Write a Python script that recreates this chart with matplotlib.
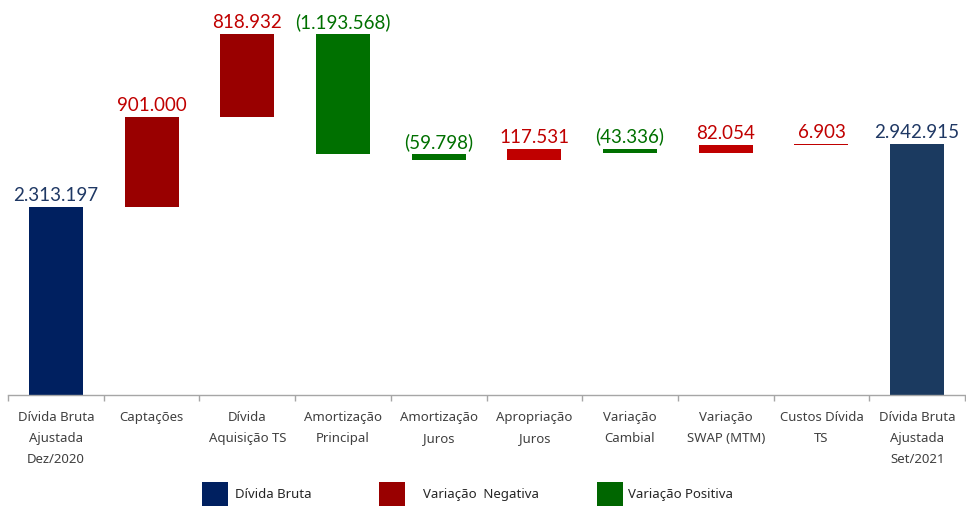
import matplotlib
matplotlib.use("Agg")
import matplotlib.pyplot as plt
from matplotlib.patches import Rectangle
from matplotlib import font_manager
import numpy as np

categories = ["Dívida Bruta\nAjustada\nDez/2020", "Captações", "Dívida\nAquisição TS",
              "Amortização\nPrincipal", "Amortização\nJuros", "Apropriação\nJuros",
              "Variação\nCambial", "Variação\nSWAP (MTM)", "Custos Dívida\nTS",
              "Dívida Bruta\nAjustada\nSet/2021"]
values = [2313197, 901000, 818932, -1193568, -59798, 117531, -43336, 82054, 6903, 2942915]
is_total = [True, False, False, False, False, False, False, False, False, True]
legend_labels = ["Dívida Bruta", "Variação  Negativa", "Variação Positiva"]

bar_colors = ["#002060", "#990000", "#990000", "#007000", "#007000", "#C00000",
              "#007000", "#C00000", "#C00000", "#1B3A60"]
label_colors = ["#1F3864", "#C00000", "#C00000", "#007000", "#007000", "#C00000",
                "#007000", "#C00000", "#C00000", "#1F3864"]
legend_colors = ["#002060", "#990000", "#006600"]

names = {f.name for f in font_manager.fontManager.ttflist}
num_font = "Lato" if "Lato" in names else "DejaVu Sans"
tick_font = "Noto Sans" if "Noto Sans" in names else "DejaVu Sans"

W, H = 966, 510
fig = plt.figure(figsize=(W / 100, H / 100), dpi=100)
ax = fig.add_axes([8 / W, (H - 396) / H, 957 / W, 396 / H])

x = np.arange(len(categories))
bottoms, heights = [], []
running = 0
for v, tot in zip(values, is_total):
    if tot:
        bottoms.append(0)
        heights.append(v)
        running = v
    else:
        if v >= 0:
            bottoms.append(running)
            heights.append(v)
        else:
            bottoms.append(running + v)
            heights.append(-v)
        running += v

ax.bar(x, heights, bottom=bottoms, width=0.565, color=bar_colors, zorder=2)

def fmt(v):
    s = f"{abs(v):,}".replace(",", ".")
    return f"({s})" if v < 0 else s

for xi, b, h, v, c in zip(x, bottoms, heights, values, label_colors):
    ax.annotate(fmt(v), (xi, b + h), xytext=(0, 5), textcoords="offset points",
                ha="center", va="baseline", fontsize=13.5, color=c, family=num_font)

ax.set_xlim(-0.5, len(categories) - 0.5)
ax.set_ylim(452000, 4381000)
ax.set_yticks([])
for s in ["top", "right", "left"]:
    ax.spines[s].set_visible(False)
ax.spines["bottom"].set_color("#A6A6A6")
ax.spines["bottom"].set_linewidth(1)
ax.set_xticks(x)
ax.set_xticklabels(categories, fontsize=9.5, family=tick_font, color="#404040",
                   linespacing=1.8)
ax.tick_params(axis="x", which="major", length=0, pad=11)
ax.set_xticks(np.arange(-0.5, len(categories)), minor=True)
ax.tick_params(axis="x", which="minor", length=4, color="#A6A6A6", width=1)

# legend
sq_x = [202, 379, 597]
txt_x = [235, 423, 628]
for lab, col, sx, tx in zip(legend_labels, legend_colors, sq_x, txt_x):
    fig.patches.append(Rectangle((sx / W, (H - 507) / H), 26 / W, 24 / H,
                                 transform=fig.transFigure, facecolor=col,
                                 edgecolor="none"))
    fig.text(tx / W, (H - 495) / H, lab, ha="left", va="center", fontsize=9.5,
             family=tick_font, color="#262626")

fig.savefig("out.png", dpi=100, facecolor="white")
